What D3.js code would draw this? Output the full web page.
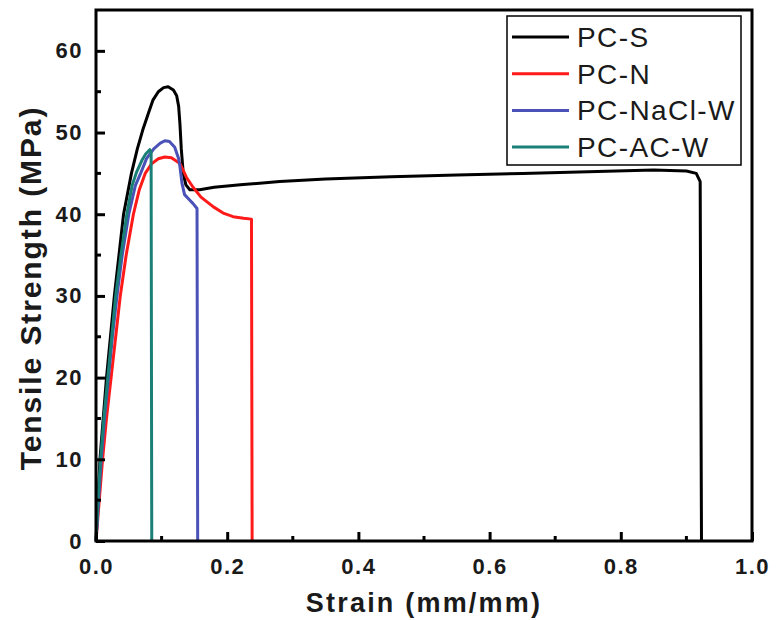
<!DOCTYPE html>
<html>
<head>
<meta charset="utf-8">
<script src="https://cdn.jsdelivr.net/npm/d3@7"></script>
<style>
  body { margin: 0; background: #fff; }
  svg { display: block; font-family: "Liberation Sans", Arial, sans-serif; }
</style>
</head>
<body>
<div id="chart"></div>
<script>
// strain (mm/mm), stress (MPa)
const pcS = [[0,0],[0.003,5],[0.006,10],[0.011,15],[0.016,20],[0.022,25],[0.028,30],[0.035,35],[0.042,40],[0.054,45],[0.063,48],[0.072,50.5],[0.08,52.4],[0.087,54],[0.095,55],[0.103,55.5],[0.11,55.6],[0.118,55.2],[0.123,54.5],[0.126,53.2],[0.128,51],[0.13,48],[0.133,45],[0.137,43.6],[0.143,43],[0.158,43],[0.18,43.3],[0.22,43.6],[0.28,44],[0.35,44.3],[0.45,44.6],[0.55,44.8],[0.65,45],[0.75,45.2],[0.85,45.4],[0.9,45.3],[0.915,45],[0.921,44],[0.923,0]];
const pcN = [[0,0],[0.005,5],[0.01,10],[0.016,15],[0.023,20],[0.03,25],[0.037,30],[0.046,35],[0.057,40],[0.066,43],[0.075,45],[0.085,46.2],[0.095,46.8],[0.105,47],[0.115,46.9],[0.128,46.2],[0.138,44.5],[0.148,43.3],[0.16,42.1],[0.179,40.9],[0.195,40.1],[0.209,39.7],[0.225,39.5],[0.237,39.4],[0.238,0]];
const pcNaCl = [[0,0],[0.004,5],[0.008,10],[0.013,15],[0.019,20],[0.025,25],[0.032,30],[0.04,35],[0.05,40],[0.06,43.5],[0.068,45],[0.077,46.8],[0.088,48],[0.098,48.7],[0.105,49],[0.112,48.9],[0.12,48.2],[0.126,46.8],[0.128,45.8],[0.131,43.8],[0.135,42.4],[0.142,41.8],[0.148,41.3],[0.154,40.7],[0.155,0]];
const pcAC = [[0,0],[0.003,5],[0.007,10],[0.012,15],[0.018,20],[0.024,25],[0.03,30],[0.038,35],[0.047,40],[0.055,43.5],[0.062,45.2],[0.07,46.6],[0.076,47.4],[0.082,47.9],[0.084,47.6],[0.085,0]];

const seriesNames = ["PC-S", "PC-N", "PC-NaCl-W", "PC-AC-W"];
const seriesData = [pcS, pcN, pcNaCl, pcAC];
const seriesColors = ["#000000", "#ff1a1a", "#4a52b8", "#1a7f77"];

const xMajor = [0, 0.2, 0.4, 0.6, 0.8, 1.0];
const xMinor = [0.1, 0.3, 0.5, 0.7, 0.9];
const yMajor = [0, 10, 20, 30, 40, 50, 60];
const yMinor = [5, 15, 25, 35, 45, 55];

function createCanvas(){
    return { width: 783, height: 620, margin: { top: 10, bottom: 79, right: 31, left: 96 } }
}

function addSvg(id, canvas){
    return d3.select(id).append("svg")
      .attr("width", canvas.width).attr("height", canvas.height)
}

function addScales(canvas){
    const xScale = d3.scaleLinear().domain([0, 1])
      .range([canvas.margin.left, canvas.width - canvas.margin.right])
    const yScale = d3.scaleLinear().domain([0, 65])
      .range([canvas.height - canvas.margin.bottom, canvas.margin.top])
    return { xScale, yScale }
}

function addAxes(svg, sc, canvas){
    const x0 = canvas.margin.left, x1 = canvas.width - canvas.margin.right
    const y0 = canvas.height - canvas.margin.bottom, y1 = canvas.margin.top

    // inward ticks, major and minor
    const bottom = svg.append("g").attr("transform", `translate(0,${y0})`)
    bottom.call(d3.axisBottom(sc.xScale).tickValues(xMajor).tickSizeInner(-9).tickSizeOuter(0).tickPadding(17).tickFormat(d3.format(".1f")))
    bottom.append("g").selectAll("line").data(xMinor).join("line")
      .attr("x1", d => sc.xScale(d)).attr("x2", d => sc.xScale(d))
      .attr("y1", 0).attr("y2", -5).attr("stroke", "#000").attr("stroke-width", 3)

    const left = svg.append("g").attr("transform", `translate(${x0},0)`)
    left.call(d3.axisLeft(sc.yScale).tickValues(yMajor).tickSizeInner(-9).tickSizeOuter(0).tickPadding(13))
    left.append("g").selectAll("line").data(yMinor).join("line")
      .attr("y1", d => sc.yScale(d)).attr("y2", d => sc.yScale(d))
      .attr("x1", 0).attr("x2", 5).attr("stroke", "#000").attr("stroke-width", 3)

    svg.selectAll(".domain").remove()
    svg.selectAll(".tick line").attr("stroke", "#000").attr("stroke-width", 3)
    svg.selectAll(".tick text").attr("font-size", 22).attr("font-weight", "bold")
      .attr("letter-spacing", 1.5)
      .attr("fill", "#1a1a1a").attr("font-family", "'Liberation Sans', Arial, sans-serif")

    svg.append("rect").attr("x", x0).attr("y", y1).attr("width", x1 - x0).attr("height", y0 - y1)
      .attr("fill", "none").attr("stroke", "#000").attr("stroke-width", 3)

    svg.append("text").attr("x", (x0 + x1) / 2).attr("y", 612)
      .attr("text-anchor", "middle").attr("font-size", 27).attr("font-weight", "bold")
      .attr("letter-spacing", 2.2).attr("fill", "#1a1a1a").text("Strain (mm/mm)")

    svg.append("text").attr("transform", `translate(41,288) rotate(-90)`)
      .attr("text-anchor", "middle").attr("font-size", 30).attr("font-weight", "bold")
      .attr("letter-spacing", 1.9).attr("fill", "#1a1a1a").text("Tensile Strength (MPa)")
}

function addLines(svg, sc){
    const line = d3.line().x(d => sc.xScale(d[0])).y(d => sc.yScale(d[1]))
    svg.append("g").selectAll("path").data(seriesData).join("path")
      .attr("d", line).attr("fill", "none")
      .attr("stroke", (d, i) => seriesColors[i]).attr("stroke-width", 3)
      .attr("stroke-linejoin", "round")
}

function addLegend(svg){
    const g = svg.append("g")
    g.append("rect").attr("x", 507).attr("y", 16).attr("width", 234).attr("height", 149)
      .attr("fill", "#fff").attr("stroke", "#000").attr("stroke-width", 1.5)
    const rows = g.selectAll("g.row").data(seriesNames).join("g")
      .attr("transform", (d, i) => `translate(0,${37 + i * 36.7})`)
    rows.append("line").attr("x1", 512).attr("x2", 569).attr("y1", 0).attr("y2", 0)
      .attr("stroke", (d, i) => seriesColors[i]).attr("stroke-width", 3)
    rows.append("text").attr("x", 577).attr("y", 10).attr("font-size", 28)
      .attr("letter-spacing", 1.4).attr("fill", "#1a1a1a").text(d => d)
}

const canvas = createCanvas()
const svg = addSvg("#chart", canvas)
const sc = addScales(canvas)
addLines(svg, sc)
addAxes(svg, sc, canvas)
addLegend(svg)
</script>
</body>
</html>
